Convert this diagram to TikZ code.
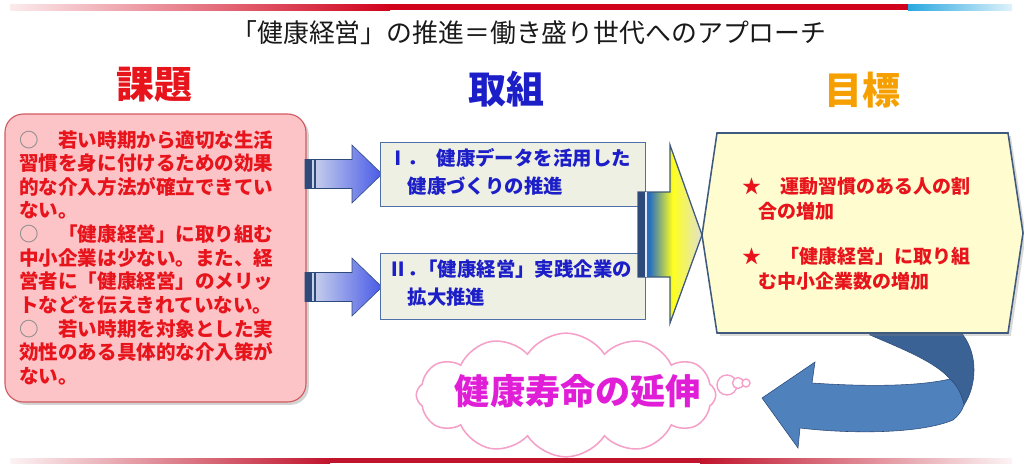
\documentclass[tikz,border=0pt]{standalone}
\usepackage{fontspec}
\setmainfont{Noto Sans CJK JP}
\usetikzlibrary{positioning,fit,shadows,shapes.symbols}

\definecolor{barred}{RGB}{208,2,27}
\definecolor{barcyan}{RGB}{41,168,224}
\definecolor{botred}{RGB}{192,20,44}
\definecolor{kadaired}{RGB}{232,20,28}
\definecolor{kadaifill}{RGB}{253,196,200}
\definecolor{kadaiedge}{RGB}{208,90,95}
\definecolor{circgray}{RGB}{140,140,140}
\definecolor{toriblue}{RGB}{28,30,200}
\definecolor{torifill}{RGB}{238,240,228}
\definecolor{toriedge}{RGB}{80,110,170}
\definecolor{mokuorange}{RGB}{245,160,0}
\definecolor{goalfill}{RGB}{255,253,208}
\definecolor{goaledge}{RGB}{63,90,125}
\definecolor{arrowlight}{RGB}{215,222,236}
\definecolor{arrowblue}{RGB}{72,90,230}
\definecolor{stripedark}{RGB}{46,74,122}
\definecolor{yblue}{RGB}{40,110,190}
\definecolor{yyellow}{RGB}{255,255,30}
\definecolor{ypale}{RGB}{225,225,210}
\definecolor{turndark}{RGB}{59,98,148}
\definecolor{turnlight}{RGB}{79,129,189}
\definecolor{turnedge}{RGB}{45,75,120}
\definecolor{cloudpink}{RGB}{245,160,200}
\definecolor{jumyo}{RGB}{225,30,215}

\pgfdeclarehorizontalshading{yelshade}{100bp}{color(0bp)=(yblue); color(34bp)=(yblue); color(52bp)=(yyellow); color(75bp)=(ypale); color(100bp)=(ypale)}

\tikzset{
    heading/.style={font=\fontsize{27}{30}\selectfont\bfseries},
    kadaibox/.style={draw=kadaiedge, fill=kadaifill, line width=0.8pt, rounded corners=13pt,
        drop shadow={shadow xshift=2pt, shadow yshift=-2pt, opacity=0.35}},
    kadaitext/.style={font=\fontsize{13.9}{16.8}\selectfont\bfseries, text=kadaired,
        align=left, inner sep=0pt, anchor=north west},
    toribox/.style={draw=toriedge, fill=torifill, line width=0.6pt},
    toritext/.style={font=\fontsize{13.8}{19.9}\selectfont\bfseries, text=toriblue,
        align=left, inner sep=0pt, anchor=north west},
    goaltext/.style={font=\fontsize{13.5}{17.8}\selectfont\bfseries, text=kadaired,
        align=left, inner sep=0pt, anchor=north west},
    blockarrow/.style={left color=arrowlight, right color=arrowblue, draw=stripedark, line width=0.4pt},
    bubble/.style={draw=cloudpink, line width=1pt, fill=white},
}

\begin{document}
\begin{tikzpicture}[x=0.025cm, y=-0.025cm]
    \useasboundingbox (0,0) rectangle (1024,467);

    % bars
    \shade[left color=barred!8, right color=barred] (10,4) rectangle (390,10);
    \fill[barred] (390,4) rectangle (908,10);
    \shade[left color=barcyan, right color=barcyan!15] (908,4) rectangle (1012,10);
    \shade[left color=botred!5, right color=botred] (10,458) rectangle (330,463);
    \fill[botred] (330,458) rectangle (700,463);
    \shade[left color=botred, right color=botred!5] (700,458) rectangle (1012,463);

    \node[font=\fontsize{18.4}{20}\selectfont, text=black!90] (title) at (529,33)
        {「健康経営」の推進＝働き盛り世代へのアプローチ};

    \node[heading, text=kadaired] (kadaihead) at (154,85) {課題};
    \node[heading, text=toriblue] (torihead) at (506,89) {取組};
    \node[heading, text=mokuorange] (mokuhead) at (862,90) {目標};

    % kadai
    \node[kadaibox, fit={(5,114) (306,402)}, inner sep=0pt] (kadai) {};
    \node[kadaitext] (kadaitext) at (19,130) {%
        {\color{circgray}○}　若い時期から適切な生活\\
        習慣を身に付けるための効果\\
        的な介入方法が確立できてい\\
        ない。\\
        {\color{circgray}○}　「健康経営」に取り組む\\
        中小企業は少ない。また、経\\
        営者に「健康経営」のメリッ\\
        トなどを伝えきれていない。\\
        {\color{circgray}○}　若い時期を対象とした実\\
        効性のある具体的な介入策が\\
        ない。};

    % arrows to torikumi
    \foreach \yc in {174,287}{
        \shade[blockarrow] (305,{\yc-14.5}) -- (352,{\yc-14.5}) -- (352,{\yc-29})
            -- (382,\yc) -- (352,{\yc+29}) -- (352,{\yc+14.5}) -- (305,{\yc+14.5}) -- cycle;
        \fill[stripedark] (305,{\yc-14.5}) rectangle (312,{\yc+14.5});
        \fill[stripedark] (313.5,{\yc-14.5}) rectangle (316,{\yc+14.5});
    }

    % torikumi
    \node[toribox, fit={(380,142) (645,206)}, inner sep=0pt] (tori1) {};
    \node[toritext] (tori1text) at (388,148) {Ⅰ．\hspace{0.5em}健康データを活用した\\
        \hspace*{1em}健康づくりの推進};
    \node[toribox, fit={(380,253) (645,319)}, inner sep=0pt] (tori2) {};
    \node[toritext] (tori2text) at (388,260) {Ⅱ．\hspace{-0.45em}「健康経営」実践企業の\\
        \hspace*{1em}拡大推進};

    % yellow arrow
    \shade[shading=yelshade, draw=goaledge, line width=0.9pt] (638,192) -- (670,192) -- (670,145)
        -- (702,235) -- (670,323) -- (670,277) -- (638,277) -- cycle;
    \fill[stripedark] (638,192) rectangle (645,277);
    \fill[white!85!yblue] (645,192) rectangle (647,277);

    % turning arrow
    \fill[turndark, draw=turnedge, line width=0.4pt] (866,325) -- (870,335)
        .. controls (905,350) and (935,362) .. (950,379)
        .. controls (957,385) and (962,395) .. (964,405)
        .. controls (977,385) and (978,355) .. (963,335) -- (962,325) -- cycle;
    \fill[turnlight, draw=turnedge, line width=0.4pt] (950,379)
        .. controls (920,386) and (870,387) .. (812,383) -- (815,362) -- (762,398)
        -- (798,448) -- (800,428)
        .. controls (850,434) and (920,434) .. (953,420)
        .. controls (958,416) and (962,411) .. (964,405)
        .. controls (962,395) and (957,385) .. (950,379) -- cycle;

    % mokuhyo
    \draw[goaledge, fill=goalfill, line width=1.1pt,
        drop shadow={shadow xshift=2pt, shadow yshift=-2pt, opacity=0.3}]
        (717,133) -- (1008,133) -- (1023,233) -- (1008,333) -- (717,333) -- (702,235) -- cycle;
    \node[goaltext] (goal1) at (742,177) {★　運動習慣のある人の割\\
        \hspace*{0.85em}合の増加};
    \node[goaltext] (goal2) at (742,247) {★　「健康経営」に取り組\\
        \hspace*{0.85em}む中小企業数の増加};

    % cloud
    \node[cloud, cloud ignores aspect, draw=cloudpink, fill=white, line width=1.1pt, cloud puffs=12,
        cloud puff arc=115, minimum width=213pt, minimum height=88pt,
        inner sep=0pt] (cloud) at (566,395) {};
    \node[font=\fontsize{25}{28}\selectfont\bfseries, text=jumyo] (jumyotext) at (578,391) {健康寿命の延伸};
    \draw[bubble] (727,385) circle (10);
    \draw[bubble] (738,383) circle (5.5);
    \draw[bubble] (746,383) circle (4);
\end{tikzpicture}
\end{document}
